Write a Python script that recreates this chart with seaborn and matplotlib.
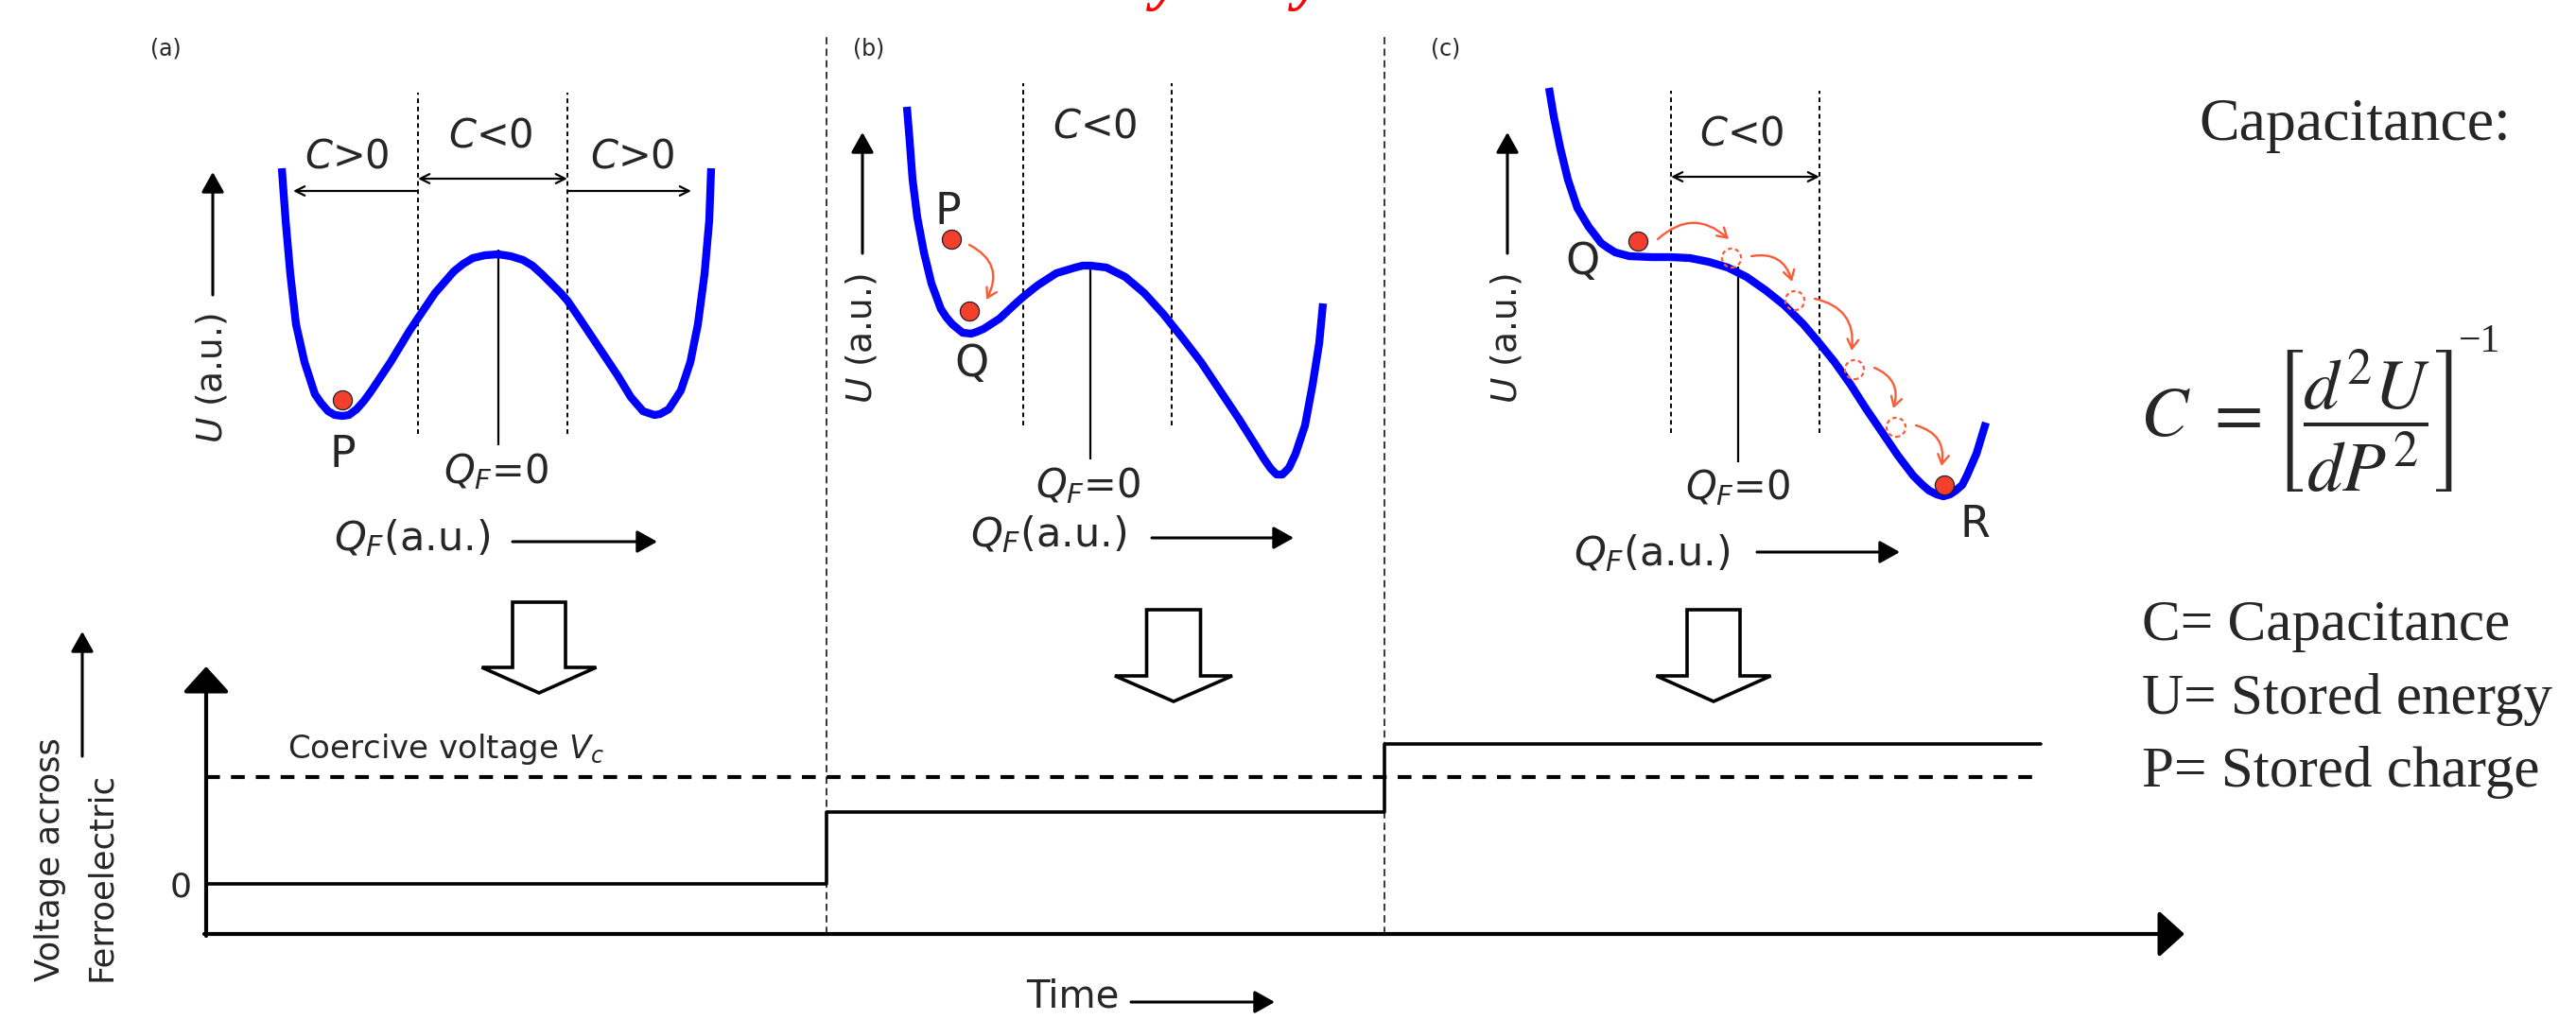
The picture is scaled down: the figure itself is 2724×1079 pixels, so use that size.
import numpy as np
import pandas as pd
import matplotlib
matplotlib.use('Agg')
import matplotlib.pyplot as plt
import seaborn as sns
from matplotlib.patches import FancyArrow

sns.set_style('white')
plt.rcParams['font.family'] = ['DejaVu Sans']
plt.rcParams['mathtext.fontset'] = 'dejavusans'

# energy landscape U vs Q_F for the three panels (a.u.)
qa = [-2.29, -2.25, -2.20, -2.14, -2.05, -1.94, -1.87, -1.80, -1.73, -1.65, -1.58, -1.50, -1.42,
      -1.34, -1.14, -0.94, -0.84, -0.67, -0.47, -0.37, -0.27, -0.14, 0.00, 0.13, 0.26, 0.36,
      0.46, 0.66, 0.73, 0.86, 1.06, 1.26, 1.40, 1.46, 1.53, 1.65, 1.71, 1.80, 1.86, 1.93,
      2.03, 2.11, 2.18, 2.23, 2.25]
ua = [3.22, 2.67, 2.10, 1.57, 1.17, 0.83, 0.73, 0.65, 0.61, 0.60, 0.61, 0.67, 0.76,
      0.87, 1.17, 1.50, 1.65, 1.90, 2.13, 2.21, 2.27, 2.30, 2.31, 2.29, 2.25, 2.19,
      2.10, 1.90, 1.82, 1.63, 1.33, 1.03, 0.80, 0.73, 0.65, 0.61, 0.62, 0.67, 0.76, 0.87,
      1.17, 1.57, 2.10, 2.67, 3.22]
qb = [-1.94, -1.91, -1.88, -1.83, -1.76, -1.68, -1.58, -1.52, -1.46, -1.40, -1.35, -1.26, -1.20,
      -1.13, -0.96, -0.80, -0.71, -0.56, -0.36, -0.16, -0.08, 0.00, 0.09, 0.17, 0.37, 0.57,
      0.77, 0.85, 0.97, 1.17, 1.37, 1.57, 1.74, 1.84, 1.91, 1.97, 2.03, 2.10, 2.17, 2.27,
      2.35, 2.42, 2.46]
ub = [3.87, 3.50, 3.10, 2.70, 2.33, 2.00, 1.73, 1.64, 1.57, 1.52, 1.48, 1.47, 1.49,
      1.52, 1.63, 1.78, 1.86, 1.98, 2.11, 2.17, 2.19, 2.19, 2.18, 2.17, 2.07, 1.90,
      1.68, 1.58, 1.43, 1.17, 0.87, 0.57, 0.30, 0.14, 0.04, -0.02, -0.02, 0.05, 0.20, 0.50,
      0.93, 1.37, 1.79]
qc = [-2.00, -1.95, -1.88, -1.80, -1.70, -1.58, -1.51, -1.45, -1.38, -1.30, -1.15, -0.91, -0.71,
      -0.51, -0.31, -0.11, 0.09, 0.29, 0.49, 0.69, 0.85, 1.02, 1.19, 1.35, 1.52, 1.69, 1.85,
      1.95, 2.02, 2.10, 2.17, 2.24, 2.30, 2.37, 2.42, 2.52, 2.62]
uc = [4.07, 3.77, 3.43, 3.10, 2.80, 2.60, 2.51, 2.43, 2.38, 2.33, 2.29, 2.28, 2.28,
      2.27, 2.23, 2.17, 2.07, 1.93, 1.77, 1.57, 1.38, 1.17, 0.93, 0.68, 0.43, 0.18, -0.03,
      -0.13, -0.19, -0.23, -0.25, -0.23, -0.19, -0.13, -0.03, 0.20, 0.53]

# edges of the C<0 region in each panel
bounds_a = [-0.85, 0.73]
bounds_b = [-0.71, 0.86]
bounds_c = [-0.71, 0.86]

# state of the system (red balls) and the path in (c)
ball_a_q, ball_a_u = [-1.65], [0.77]
ball_b_q, ball_b_u = [-1.47, -1.28], [2.47, 1.71]
ball_c_q, ball_c_u = [-1.06, 2.18], [2.45, -0.13]
ghost_q = [-0.07, 0.60, 1.23, 1.67]
ghost_u = [2.27, 1.82, 1.09, 0.48]

# voltage across the ferroelectric vs time (a.u.)
t_edges = [0, 3.14, 5.96, 9.28]
v_levels = [0, 0.67, 1.31]
v_coercive = 1.0

W, H = 2724, 1079
BLUE = '#0000ff'
ORANGE = '#ff5a36'
RED = '#f43f2c'

fig = plt.figure(figsize=(W / 100, H / 100), dpi=100)
ax = fig.add_axes([0, 0, 1, 1])
ax.set_xlim(0, W)
ax.set_ylim(H, 0)
ax.axis('off')


def panel(x0, x1, xc):
    p = fig.add_axes([x0 / W, 1 - 620 / H, (x1 - x0) / W, 600 / H])
    p.set_xlim((x0 - xc) / 100, (x1 - xc) / 100)
    p.set_ylim(-1.2, 4.8)
    p.axis('off')
    return p


pa = panel(150, 860, 527)
pb = panel(880, 1460, 1153)
pc = panel(1470, 2200, 1838)

for p, q, u, bnd, dash_rng, zero_rng in [
        (pa, qa, ua, bounds_a, (0.41, 4.02), (0.29, 2.36)),
        (pb, qb, ub, bounds_b, (0.50, 4.12), (0.14, 2.23)),
        (pc, qc, uc, bounds_c, (0.42, 4.04), (0.11, 2.18))]:
    p.vlines(bnd, dash_rng[0], dash_rng[1], colors='k', lw=1.4, linestyles=(0, (2.5, 2)))
    p.vlines([0], zero_rng[0], zero_rng[1], colors='k', lw=1.6)
    sns.lineplot(x=q, y=u, ax=p, color=BLUE, linewidth=6, sort=False, estimator=None,
                 solid_capstyle='butt', solid_joinstyle='round')

# red balls
for p, bq, bu in [(pa, ball_a_q, ball_a_u), (pb, ball_b_q, ball_b_u), (pc, ball_c_q, ball_c_u)]:
    p.scatter(bq, bu, s=210, color=RED, edgecolors='#222222', linewidths=0.9, zorder=5)
pc.scatter(ghost_q, ghost_u, s=210, facecolors='none', edgecolors=ORANGE, linewidths=1.6,
           linestyles=(0, (2, 1.5)), zorder=5)

# orange hop arrows
orange_arrow = dict(arrowstyle='->,head_length=0.5,head_width=0.3', color=ORANGE, lw=1.7,
                    mutation_scale=14, shrinkA=0, shrinkB=0)
pb.annotate('', xy=(ball_b_q[1] + 0.18, ball_b_u[1] + 0.12),
            xytext=(ball_b_q[0] + 0.19, ball_b_u[0] - 0.06),
            arrowprops=dict(connectionstyle='arc3,rad=-0.5', **orange_arrow))
path_q = [ball_c_q[0]] + ghost_q + [ball_c_q[1]]
path_u = [ball_c_u[0]] + ghost_u + [ball_c_u[1]]
for i in range(len(path_q) - 1):
    pc.annotate('', xy=(path_q[i + 1] - 0.03, path_u[i + 1] + 0.20),
                xytext=(path_q[i] + 0.21, path_u[i] + 0.02),
                arrowprops=dict(connectionstyle='arc3,rad=-0.45', **orange_arrow))

# C>0 / C<0 span arrows
span = dict(lw=1.6, color='k', mutation_scale=14, shrinkA=0, shrinkB=0)
pa.annotate('', xy=(-2.17, 2.98), xytext=(bounds_a[0], 2.98),
            arrowprops=dict(arrowstyle='->,head_length=0.5,head_width=0.25', **span))
pa.annotate('', xy=(bounds_a[1], 3.11), xytext=(bounds_a[0], 3.11),
            arrowprops=dict(arrowstyle='<->,head_length=0.5,head_width=0.25', **span))
pa.annotate('', xy=(2.04, 2.98), xytext=(bounds_a[1], 2.98),
            arrowprops=dict(arrowstyle='->,head_length=0.5,head_width=0.25', **span))
pc.annotate('', xy=(bounds_c[1], 3.13), xytext=(bounds_c[0], 3.13),
            arrowprops=dict(arrowstyle='<->,head_length=0.5,head_width=0.25', **span))

# panel texts
c_ = dict(ha='center', va='baseline')
for x, lab in [(175, '(a)'), (919, '(b)'), (1529, '(c)')]:
    ax.text(x, 59, lab, fontsize=17, **c_)
for x, y, lab in [(367, 177, r'$C$>0'), (519, 155, r'$C$<0'), (669, 177, r'$C$>0'),
                  (1158, 145, r'$C$<0'), (1842, 154, r'$C$<0')]:
    ax.text(x, y, lab, fontsize=30, **c_)
for x, y, lab in [(362, 494, 'P'), (1002, 237, 'P'), (1028, 398, 'Q'), (1673, 290, 'Q'),
                  (2088, 568, 'R')]:
    ax.text(x, y, lab, fontsize=33, **c_)
for x, y in [(525, 511), (1151, 526), (1838, 528)]:
    ax.text(x, y, r'$Q_F$=0', fontsize=30, **c_)

arrow_f = dict(arrowstyle='-|>,head_length=0.5,head_width=0.28', lw=2.2, color='k',
               mutation_scale=26, shrinkA=0, shrinkB=0)
for x, y, x0, x1, ya in [(353, 582, 542, 695, 573), (1026, 578, 1218, 1368, 569),
                         (1664, 598, 1858, 2009, 584)]:
    ax.text(x, y, r'$Q_F$(a.u.)', fontsize=31, ha='left', va='baseline')
    ax.annotate('', xy=(x1, ya), xytext=(x0, ya), arrowprops=arrow_f)
for x, y, xa, y0, y1 in [(224, 400, 225, 312, 182), (911, 358, 912, 268, 140),
                         (1593, 358, 1594, 268, 140)]:
    ax.text(x, y, r'$U$ (a.u.)', fontsize=27, rotation=90, ha='center', va='center')
    ax.annotate('', xy=(xa, y1), xytext=(xa, y0), arrowprops=arrow_f)

# big hollow arrows
for xm, y0, y1, w, hw in [(570, 637, 733, 56, 121), (1241, 645, 742, 57, 124),
                          (1812, 645, 742, 56, 121)]:
    ax.add_patch(FancyArrow(xm, y0, 0, y1 - y0, width=w, head_width=hw, head_length=27,
                            length_includes_head=True, fc='white', ec='k', lw=2.6))

# voltage vs time
axv = fig.add_axes([218 / W, 1 - 988 / H, (2308 - 218) / W, (988 - 707) / H])
axv.set_xlim(0, 10)
axv.set_ylim(-0.47, 2.02)
axv.patch.set_alpha(0)
sns.lineplot(x=t_edges, y=v_levels + [v_levels[-1]], ax=axv, color='k', linewidth=2.6,
             drawstyle='steps-post', estimator=None, sort=False)
axv.hlines(v_coercive, t_edges[0], t_edges[-1], colors='k', lw=3, linestyles=(0, (3.5, 2.8)))
axv.vlines(t_edges[1:3], -0.47, 7.96, colors='k', lw=1.1, linestyles=(0, (5, 3)), clip_on=False)
sns.despine(ax=axv, left=True, bottom=True)
axv.set_xticks([])
axv.set_yticks([0])
axv.set_yticklabels(['0'])
axv.tick_params(axis='y', length=0, labelsize=26, pad=11)
axv.set_xlabel('')
axv.set_ylabel('')

axis_arrow = dict(arrowstyle='-|>,head_length=0.42,head_width=0.38', lw=3, color='k',
                  mutation_scale=40, shrinkA=0, shrinkB=0)
ax.annotate('', xy=(218, 705), xytext=(218, 990), arrowprops=axis_arrow)
ax.annotate('', xy=(2310, 988), xytext=(216, 988), arrowprops=axis_arrow)

ax.text(304, 802, r'Coercive voltage $V_c$', fontsize=24.5, ha='left', va='baseline')
ax.text(53, 1038, 'Voltage across', fontsize=25.5, rotation=90, rotation_mode='anchor',
        ha='left', va='center')
ax.text(107, 1038, 'Ferroelectric', fontsize=25.5, rotation=90, rotation_mode='anchor',
        ha='left', va='center')
ax.annotate('', xy=(87, 668), xytext=(87, 800), arrowprops=arrow_f)
ax.text(1085, 1066, 'Time', fontsize=29, ha='left', va='baseline')
ax.annotate('', xy=(1348, 1060), xytext=(1196, 1060), arrowprops=arrow_f)

# capacitance definition
serif = dict(fontfamily='Liberation Serif')
ax.text(2490, 148, 'Capacitance:', fontsize=46, ha='center', va='baseline', **serif)
ax.text(2428, 446, r'$C\ =\left[\dfrac{d^{2}U}{dP^{2}}\right]$', math_fontfamily='stix',
        fontsize=54, ha='center', va='center')
ax.text(2622, 372, '\u22121', fontsize=30, ha='center', va='baseline', **serif)
for y, lab in [(677, 'C= Capacitance'), (755, 'U= Stored energy'), (832, 'P= Stored charge')]:
    ax.text(2265, y, lab, fontsize=44, ha='left', va='baseline', **serif)

# cut-off red heading at the very top
for x in [1234, 1384]:
    ax.text(x, -3, 'y', color='red', fontsize=50, fontstyle='italic', fontweight='bold',
            ha='center', va='baseline', **serif)

fig.savefig('out.png', dpi=100)
